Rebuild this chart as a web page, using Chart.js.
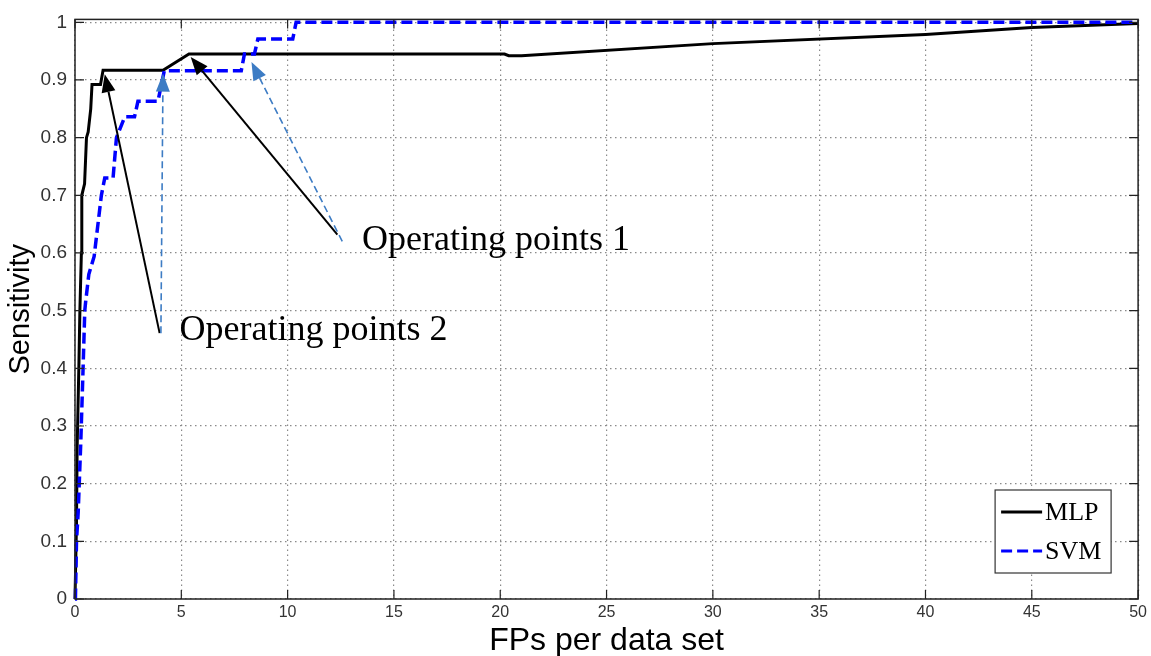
<!DOCTYPE html>
<html>
<head>
<meta charset="utf-8">
<script src="https://cdn.jsdelivr.net/npm/chart.js@4"></script>
<style>
  html, body { margin: 0; padding: 0; background: #fff; }
  #wrap { width: 1151px; height: 656px; position: relative; }
</style>
</head>
<body>
<div id="wrap"><canvas id="frocchart"></canvas></div>
<script>
// FROC curves, values
const mlpFP   = [0, 0.07, 0.1, 0.18, 0.23, 0.3, 0.32, 0.45, 0.54, 0.62, 0.74, 0.8, 1.2, 1.32, 4.14, 5.36, 20.2, 20.4, 21, 30, 40, 45, 50];
const mlpSens = [0, 0.13, 0.26, 0.4, 0.5, 0.6, 0.7, 0.72, 0.8, 0.81, 0.85, 0.892, 0.892, 0.917, 0.917, 0.945, 0.945, 0.942, 0.942, 0.963, 0.979, 0.991, 0.998];

const svmFP   = [0, 0.02, 0.07, 0.15, 0.27, 0.38, 0.46, 0.5, 0.65, 0.9, 1.24, 1.4, 1.79, 1.95, 2.34, 2.8, 2.96, 3.9, 4.2, 7.82, 7.97, 8.44, 8.6, 10.24, 10.4, 50];
const svmSens = [0, 0, 0.1, 0.15, 0.27, 0.4, 0.5, 0.515, 0.563, 0.594, 0.7, 0.73, 0.73, 0.8, 0.836, 0.836, 0.863, 0.863, 0.916, 0.916, 0.945, 0.945, 0.971, 0.971, 1.0, 1.0];

const seriesNames = ['MLP', 'SVM'];
const yTicks = [0, 0.1, 0.2, 0.3, 0.4, 0.5, 0.6, 0.7, 0.8, 0.9, 1];

// annotation text + arrows (data units)
const noteText = ['Operating points 1', 'Operating points 2'];
const noteAt   = [[13.5, 0.606], [4.92, 0.449]];
const arrowFrom = [[3.98, 0.461], [4.04, 0.461], [12.34, 0.632], [12.57, 0.62]];
const arrowTo   = [[1.40, 0.910], [4.14, 0.911], [5.44, 0.94], [8.3, 0.931]];
const arrowKind = ['solid', 'dashed', 'solid', 'dashed'];

function toPoints(xs, ys) {
  return xs.map((x, i) => ({ x: x, y: ys[i] }));
}

function drawArrow(ctx, x1, y1, x2, y2, kind) {
  let ang = Math.atan2(y2 - y1, x2 - x1);
  let headLen = 18, headW = 7;
  let bx = x2 - headLen * Math.cos(ang);
  let by = y2 - headLen * Math.sin(ang);
  let col = kind == 'solid' ? '#000' : '#3d7cc4';
  ctx.save();
  ctx.strokeStyle = col;
  ctx.fillStyle = col;
  ctx.lineWidth = kind == 'solid' ? 2 : 1.6;
  ctx.setLineDash(kind == 'solid' ? [] : [7, 4]);
  ctx.beginPath();
  ctx.moveTo(x1, y1);
  ctx.lineTo(bx, by);
  ctx.stroke();
  ctx.setLineDash([]);
  ctx.beginPath();
  ctx.moveTo(x2, y2);
  ctx.lineTo(bx + headW * Math.sin(ang), by - headW * Math.cos(ang));
  ctx.lineTo(bx - headW * Math.sin(ang), by + headW * Math.cos(ang));
  ctx.closePath();
  ctx.fill();
  ctx.restore();
}

const matlabFrame = {
  id: 'matlabFrame',
  afterDraw(chart) {
    const ctx = chart.ctx;
    const a = chart.chartArea;
    const xs = chart.scales.x, ys = chart.scales.y;

    // box + inward ticks on all sides
    ctx.save();
    ctx.strokeStyle = '#222';
    ctx.lineWidth = 1.5;
    ctx.strokeRect(a.left, a.top, a.right - a.left, a.bottom - a.top);
    ctx.lineWidth = 1.2;
    ctx.beginPath();
    xs.ticks.forEach(t => {
      let px = xs.getPixelForValue(t.value);
      ctx.moveTo(px, a.bottom); ctx.lineTo(px, a.bottom - 9);
      ctx.moveTo(px, a.top); ctx.lineTo(px, a.top + 9);
    });
    ys.ticks.forEach(t => {
      let py = ys.getPixelForValue(t.value);
      ctx.moveTo(a.left, py); ctx.lineTo(a.left + 9, py);
      ctx.moveTo(a.right, py); ctx.lineTo(a.right - 9, py);
    });
    ctx.stroke();
    ctx.restore();

    // arrows
    for (let i = 0; i < arrowFrom.length; i++) {
      drawArrow(ctx,
        xs.getPixelForValue(arrowFrom[i][0]), ys.getPixelForValue(arrowFrom[i][1]),
        xs.getPixelForValue(arrowTo[i][0]), ys.getPixelForValue(arrowTo[i][1]),
        arrowKind[i]);
    }

    // annotation text
    ctx.save();
    ctx.fillStyle = '#000';
    ctx.font = '36px "Liberation Serif", "Times New Roman", serif';
    ctx.textBaseline = 'alphabetic';
    ctx.textAlign = 'left';
    noteText.forEach((txt, i) => {
      ctx.fillText(txt, xs.getPixelForValue(noteAt[i][0]), ys.getPixelForValue(noteAt[i][1]));
    });
    ctx.restore();

    // legend box, bottom right inside the axes
    let boxW = 116, boxH = 83;
    let bx = a.right - 27 - boxW, by = a.bottom - 26 - boxH;
    ctx.save();
    ctx.fillStyle = '#fff';
    ctx.fillRect(bx, by, boxW, boxH);
    ctx.strokeStyle = '#333';
    ctx.lineWidth = 1.2;
    ctx.strokeRect(bx, by, boxW, boxH);
    ctx.font = '26px "Liberation Serif", "Times New Roman", serif';
    ctx.textBaseline = 'middle';
    chart.data.datasets.forEach((ds, i) => {
      let ly = by + 22 + i * 39;
      ctx.strokeStyle = ds.borderColor;
      ctx.lineWidth = 3;
      ctx.setLineDash(ds.borderDash || []);
      ctx.beginPath();
      ctx.moveTo(bx + 6, ly);
      ctx.lineTo(bx + 47, ly);
      ctx.stroke();
      ctx.setLineDash([]);
      ctx.fillStyle = '#000';
      ctx.fillText(ds.label, bx + 50, ly + 1);
    });
    ctx.restore();
  }
};

const ctx = document.getElementById('frocchart').getContext('2d');
const frocChart = new Chart(ctx, {
  type: 'scatter',
  data: {
    datasets: [
      {
        label: seriesNames[0],
        data: toPoints(mlpFP, mlpSens),
        showLine: true,
        borderColor: '#000',
        borderWidth: 3,
        pointRadius: 0,
        clip: 4,
        order: 2,
      },
      {
        label: seriesNames[1],
        data: toPoints(svmFP, svmSens),
        showLine: true,
        borderColor: '#0000ff',
        borderWidth: 3.5,
        borderDash: [11, 5],
        pointRadius: 0,
        clip: 4,
        order: 1,
      },
    ],
  },
  options: {
    responsive: true,
    maintainAspectRatio: false,
    animation: false,
    layout: { padding: { top: 17, right: 11, left: 0, bottom: 0 } },
    plugins: {
      legend: { display: false },
      tooltip: { enabled: false },
    },
    scales: {
      x: {
        type: 'linear',
        min: 0,
        max: 50,
        afterFit: (scale) => { scale.height = 57; },
        ticks: {
          stepSize: 5,
          padding: 4,
          color: '#333',
          font: { family: '"Liberation Sans", Arial, sans-serif', size: 16 },
        },
        grid: { color: '#8a8a8a', lineWidth: 1.2, drawTicks: false },
        border: { display: false, dash: [1.5, 3.5] },
        title: {
          display: true,
          text: 'FPs per data set',
          color: '#000',
          font: { family: '"Liberation Sans", Arial, sans-serif', size: 32 },
          padding: { top: 0, bottom: -4 },
        },
      },
      y: {
        type: 'linear',
        min: 0,
        max: 1.005,
        afterFit: (scale) => { scale.width = 75; },
        afterBuildTicks: (scale) => {
          scale.ticks = yTicks.map(v => ({ value: v }));
        },
        ticks: {
          padding: 8,
          color: '#333',
          font: { family: '"Liberation Sans", Arial, sans-serif', size: 19 },
          callback: (v) => String(+v.toFixed(1)),
        },
        grid: { color: '#8a8a8a', lineWidth: 1.2, drawTicks: false },
        border: { display: false, dash: [1.5, 3.5] },
        title: {
          display: true,
          text: 'Sensitivity',
          color: '#000',
          font: { family: '"Liberation Sans", Arial, sans-serif', size: 29 },
          padding: { top: 4, bottom: 0 },
        },
      },
    },
  },
  plugins: [matlabFrame],
});
</script>
</body>
</html>
